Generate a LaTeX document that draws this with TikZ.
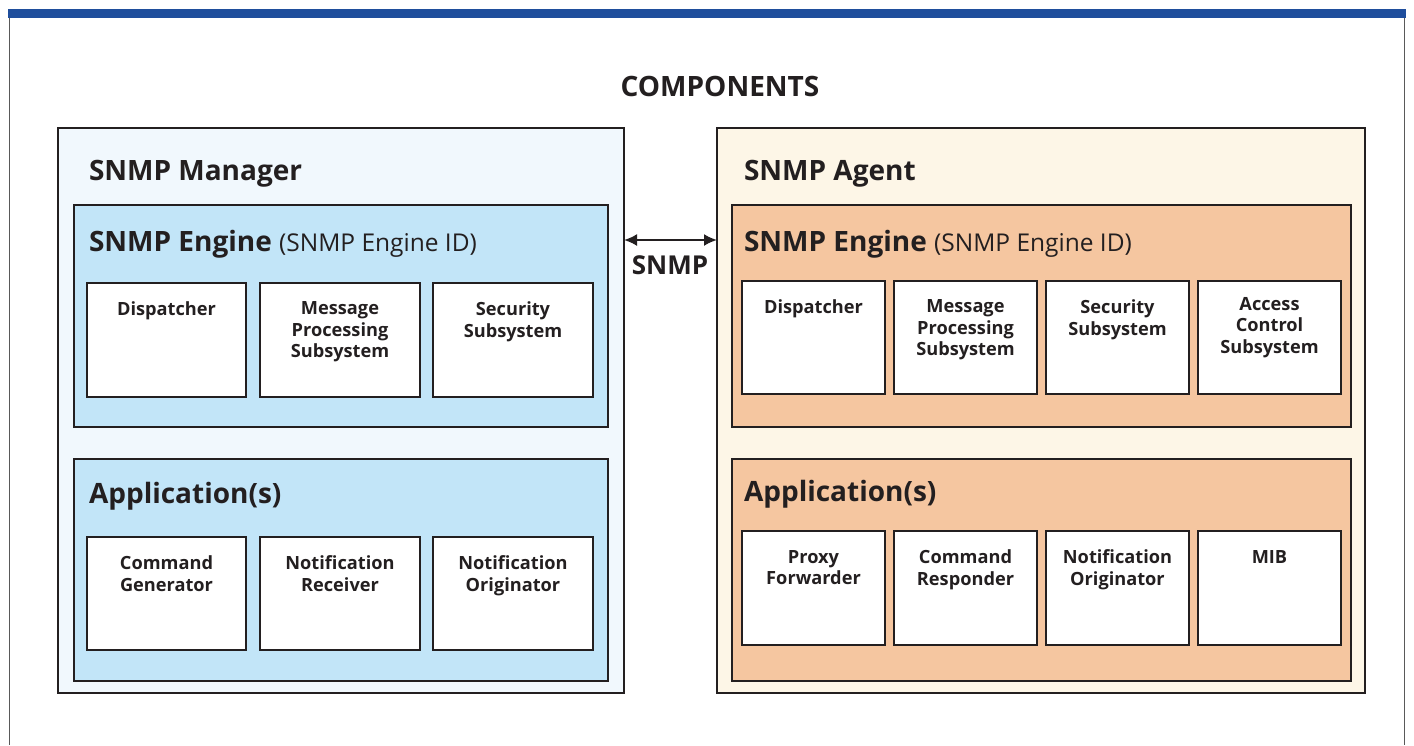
\documentclass[tikz,border=0pt]{standalone}
\usepackage{fontspec}
\setmainfont{Open Sans}
\definecolor{barblue}{HTML}{1F4E9C}
\definecolor{txt}{HTML}{231F20}
\definecolor{mgrout}{HTML}{F1F8FD}
\definecolor{mgrin}{HTML}{C2E5F8}
\definecolor{agtout}{HTML}{FDF6E7}
\definecolor{agtin}{HTML}{F5C6A0}
\usetikzlibrary{arrows.meta}
\newcommand\mybox[6]{\node[#6, minimum width={#4pt-#2pt}, minimum height={#5pt-#3pt}] (#1) at ({(#2+#4)/2},{(#3+#5)/2}) {};}
\newcommand\idfont{\mdseries\fontsize{24.5}{28}\selectfont}
\begin{document}
\begin{tikzpicture}[x=1pt,y=-1pt,
  every node/.style={inner sep=0pt, outer sep=0pt, text=txt},
  frame/.style={draw=txt, line width=1.8pt, rectangle},
  compbox/.style={frame, fill=white},
  head/.style={anchor=west, font=\bfseries\fontsize{28}{32}\selectfont},
  sub/.style={anchor=north, align=center, font=\bfseries\fontsize{18.2}{21.5}\selectfont}]
\useasboundingbox (0,0) rectangle (1414,745);
\fill[white] (0,0) rectangle (1414,745);
% page frame
\fill[barblue] (8,9) rectangle (1406,18);
\draw[gray!70!black, line width=1.2pt] (9.5,18) -- (9.5,745);
\draw[gray!70!black, line width=1.2pt] (1404.5,18) -- (1404.5,745);
\node[font=\bfseries\fontsize{28}{32}\selectfont] (title) at (720,86) {COMPONENTS};
% ---------------- Manager ----------------
\mybox{mgr}{58}{128}{624}{693}{frame, fill=mgrout}
\node[head] (mgrlbl) at (89,174) {SNMP Manager};
\mybox{meng}{74}{205}{608}{427}{frame, fill=mgrin}
\node[head] (menglbl) at (89,244) {SNMP Engine {\idfont(SNMP Engine ID)}};
\mybox{mdisp}{87}{283}{246}{397}{compbox}
\mybox{mmp}{260}{283}{420}{397}{compbox}
\mybox{msec}{433}{283}{593}{397}{compbox}
\node[sub] at ([yshift=-19pt]mdisp.north) {Dispatcher};
\node[sub] at ([yshift=-19pt]mmp.north) {Message\\Processing\\Subsystem};
\node[sub] at ([yshift=-19pt]msec.north) {Security\\Subsystem};
\mybox{mapp}{74}{459}{608}{681}{frame, fill=mgrin}
\node[head] (mapplbl) at (89,496) {Application(s)};
\mybox{mcg}{87}{537}{246}{650}{compbox}
\mybox{mnr}{260}{537}{420}{650}{compbox}
\mybox{mno}{433}{537}{593}{650}{compbox}
\node[sub] at ([yshift=-19pt]mcg.north) {Command\\Generator};
\node[sub] at ([yshift=-19pt]mnr.north) {Notification\\Receiver};
\node[sub] at ([yshift=-19pt]mno.north) {Notification\\Originator};
% ---------------- Agent ----------------
\mybox{agt}{717}{128}{1365}{693}{frame, fill=agtout}
\node[head] (agtlbl) at (744,174) {SNMP Agent};
\mybox{aeng}{732}{205}{1351}{427}{frame, fill=agtin}
\node[head] (aenglbl) at (744,244) {SNMP Engine {\idfont(SNMP Engine ID)}};
\mybox{adisp}{742}{281}{885}{394}{compbox}
\mybox{amp}{894}{281}{1037}{394}{compbox}
\mybox{asec}{1046}{281}{1189}{394}{compbox}
\mybox{aacc}{1198}{281}{1341}{394}{compbox}
\node[sub] at ([yshift=-19pt]adisp.north) {Dispatcher};
\node[sub] at ([yshift=-19pt]amp.north) {Message\\Processing\\Subsystem};
\node[sub] at ([yshift=-19pt]asec.north) {Security\\Subsystem};
\node[sub] at ([yshift=-16pt]aacc.north) {Access\\Control\\Subsystem};
\mybox{aapp}{732}{459}{1351}{681}{frame, fill=agtin}
\node[head] (aapplbl) at (744,494) {Application(s)};
\mybox{apf}{742}{531}{885}{645}{compbox}
\mybox{acr}{894}{531}{1037}{645}{compbox}
\mybox{ano}{1046}{531}{1189}{645}{compbox}
\mybox{amib}{1198}{531}{1341}{645}{compbox}
\node[sub] at ([yshift=-19pt]apf.north) {Proxy\\Forwarder};
\node[sub] at ([yshift=-19pt]acr.north) {Command\\Responder};
\node[sub] at ([yshift=-19pt]ano.north) {Notification\\Originator};
\node[sub] at ([yshift=-19pt]amib.north) {MIB};
% ---------------- SNMP arrow ----------------
\coordinate (aL) at (mgr.east |- 0,240);
\coordinate (aR) at (agt.west |- 0,240);
\draw[txt, line width=2pt, {Latex[length=13pt,width=12pt]}-{Latex[length=13pt,width=12pt]}] (aL) -- (aR);
\node[font=\bfseries\fontsize{26}{30}\selectfont] (snmp) at (670,265) {SNMP};
\end{tikzpicture}
\end{document}
